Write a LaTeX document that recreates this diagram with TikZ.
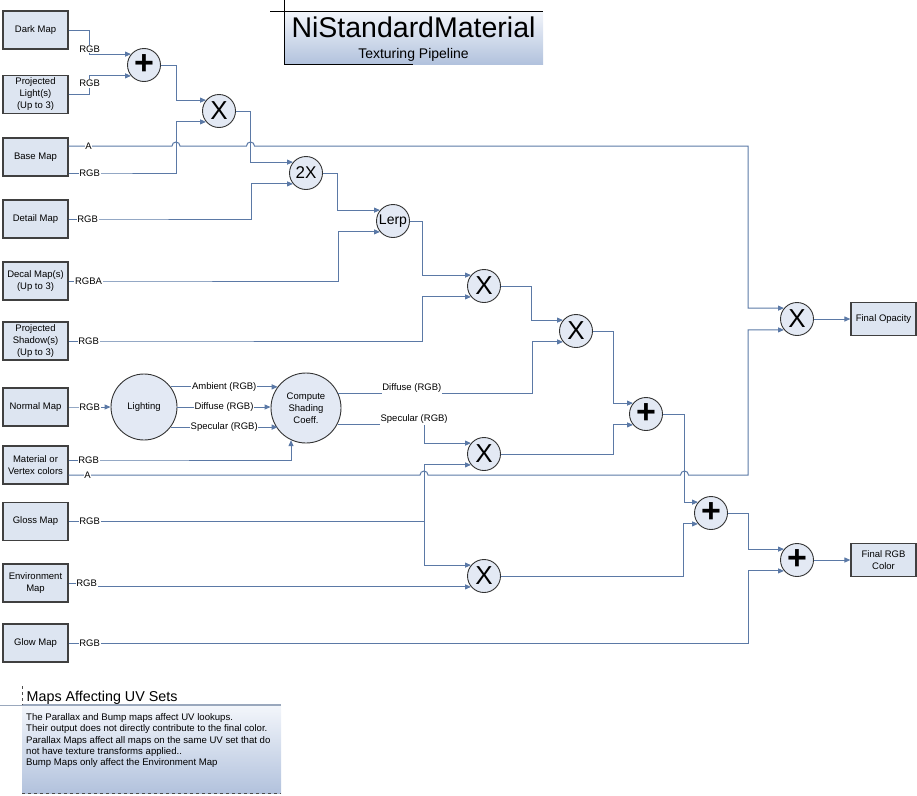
\documentclass[tikz,border=0pt]{standalone}
\usepackage{fontspec}
\setmainfont{Liberation Sans}
\usetikzlibrary{arrows.meta, positioning}

\definecolor{bleufil}{HTML}{5B79A6}
\definecolor{fondcarte}{HTML}{DDE5F1}
\definecolor{fondop}{HTML}{E3E9F4}
\definecolor{degradhaut}{HTML}{F3F6FB}
\definecolor{degradbas}{HTML}{B2C2DD}
\definecolor{bordnote}{HTML}{9AA8BD}

\newcommand{\sumsign}{\fontsize{34}{34}\selectfont\bfseries +}
\newcommand{\prodsign}{\fontsize{26}{26}\selectfont X}

\begin{document}
\begin{tikzpicture}[x=1pt, y=-1pt,
        carte/.style={draw=black!75, line width=1.2pt, fill=fondcarte, minimum width=65pt,
            minimum height=38pt, inner sep=1pt, align=center, font=\fontsize{9.5}{12}\selectfont},
        op/.style={circle, draw=black!80, line width=0.9pt, fill=fondop, minimum size=33pt, inner sep=0pt},
        bloc/.style={op, align=center, font=\fontsize{9.5}{12}\selectfont},
        fil/.style={draw=bleufil, line width=1pt},
        entree/.style={fil, -{Triangle[length=6pt, width=5pt]}},
        etiq/.style={fill=white, inner sep=0.7pt, font=\fontsize{9.5}{11}\selectfont}]

    \useasboundingbox (0,0) rectangle (917,795);

    % Titre
    \node[minimum width=259pt, minimum height=53pt, top color=degradhaut, bottom color=degradbas, inner sep=0pt] (cadre) at (413.5,37.5) {};
    \node[font=\fontsize{28.5}{30}\selectfont, inner sep=0pt] (titre) at (413.5,27) {NiStandardMaterial};
    \node[font=\fontsize{14}{16}\selectfont, inner sep=0pt] (soustitre) at (413.5,55) {Texturing Pipeline};
    \draw[line width=1pt] (270,11) -- (543,11);
    \draw[line width=1pt] (284,0) -- (284,64) -- (413,64);

    % Cartes d'entrée
    \node[carte] (dark) at (35.5,30) {Dark Map};
    \node[carte] (plight) at (35.5,94.5) {Projected\\Light(s)\\(Up to 3)};
    \node[carte] (base) at (35.5,157) {Base Map};
    \node[carte] (detail) at (35.5,219) {Detail Map};
    \node[carte] (decal) at (35.5,281) {Decal Map(s)\\(Up to 3)};
    \node[carte] (pshadow) at (35.5,341) {Projected\\Shadow(s)\\(Up to 3)};
    \node[carte] (normal) at (35.5,407) {Normal Map};
    \node[carte] (matcol) at (35.5,465) {Material or\\Vertex colors};
    \node[carte] (gloss) at (35.5,521.5) {Gloss Map};
    \node[carte] (env) at (35.5,583) {Environment\\Map};
    \node[carte] (glow) at (35.5,643) {Glow Map};

    % Sorties
    \node[carte, minimum width=65pt, minimum height=33pt] (fopac) at (883.5,319) {Final Opacity};
    \node[carte, minimum width=65pt, minimum height=33pt] (frgb) at (883.5,560) {Final RGB\\Color};

    % Opérateurs
    \node[op] (p1) at (144,65) {\sumsign};
    \node[op] (x1) at (219,111) {\prodsign};
    \node[op, font=\fontsize{17}{17}\selectfont] (dbl) at (306,173) {2X};
    \node[op, font=\fontsize{14}{14}\selectfont] (lerp) at (393,221) {Lerp};
    \node[op] (x2) at (484,286) {\prodsign};
    \node[op] (x3) at (576,331) {\prodsign};
    \node[op] (p2) at (646,414) {\sumsign};
    \node[op] (x4) at (484,454) {\prodsign};
    \node[op] (x6) at (484,576) {\prodsign};
    \node[op] (p3) at (711,513) {\sumsign};
    \node[op] (x5) at (797,319) {\prodsign};
    \node[op] (p4) at (797,560) {\sumsign};
    \node[bloc, minimum size=66pt] (light) at (144,407) {Lighting};
    \node[bloc, minimum size=70pt] (shade) at (306,408) {Compute\\Shading\\Coeff.};

    % Connexions
    \draw[entree] (dark.east) -- ++(21,0) -- ++(0,19) node[etiq]{RGB} |- (p1.140);
    \draw[entree] (plight.east) -- ++(21,0) -- ++(0,-11) node[etiq]{RGB} |- (p1.220);
    \draw[entree] (p1.east) -- ++(16,0) |- (x1.140);
    \draw[entree] ([yshift=-16pt]base.east) -- ++(21,0) node[etiq]{RGB} -- ++(87,0) |- (x1.220);
    \draw[entree] ([yshift=11pt]base.east) -- ++(20,0) node[etiq]{A} -- (172,146)
        arc[start angle=180, end angle=0, radius=4pt] -- (246.5,146)
        arc[start angle=180, end angle=0, radius=4pt] -- (748,146) |- (x5.140);
    \draw[entree] (x1.east) -- ++(15,0) |- (dbl.140);
    \draw[entree] (detail.east) -- ++(19,0) node[etiq]{RGB} -- ++(164,0) |- (dbl.220);
    \draw[entree] (dbl.east) -- ++(15,0) |- (lerp.140);
    \draw[entree] (decal.east) -- ++(20,0) node[etiq]{RGBA} -- ++(250,0) |- (lerp.220);
    \draw[entree] (lerp.east) -- ++(13,0) |- (x2.140);
    \draw[entree] (pshadow.east) -- ++(20,0) node[etiq]{RGB} -- ++(334,0) |- (x2.220);
    \draw[entree] (x2.east) -- ++(31,0) |- (x3.140);

    \draw[entree] (normal.east) -- ++(21,0) node[etiq]{RGB} -- (light.west |- normal.east);
    \draw[entree] (light.37) -- (shade.143 |- light.37) node[etiq, midway]{Ambient (RGB)};
    \draw[entree] (light.east) -- (shade.west |- light.east) node[etiq, midway]{Diffuse (RGB)};
    \draw[entree] (light.-37) -- (shade.-143 |- light.-37) node[etiq, midway]{Specular (RGB)};
    \draw[entree] ([yshift=5pt]matcol.east) -- ++(20,0) node[etiq]{RGB} -| (shade.245);
    \draw[entree] (shade.25) -- ++(194,0) node[etiq, pos=0.38, above=-1pt]{Diffuse (RGB)} |- (x3.220);
    \draw[entree] (shade.-27) -- ++(87,0) node[etiq, pos=0.88, above=-1pt]{Specular (RGB)} |- (x4.140);

    \draw[entree] ([yshift=-10pt]matcol.east) -- ++(19,0) node[etiq]{A} -- (420,475)
        arc[start angle=180, end angle=0, radius=4pt] -- (680.5,475)
        arc[start angle=180, end angle=0, radius=4pt] -- (748,475) |- (x5.220);
    \draw[fil] (gloss.east) -- ++(21,0) node[etiq]{RGB} -- ++(335,0) coordinate (gsplit);
    \draw[entree] (gsplit) |- (x4.220);
    \draw[entree] (gsplit) |- (x6.140);
    \draw[entree] (env.east) -- ++(18,0) node[etiq]{RGB} |- (x6.220);

    \draw[entree] (x3.east) -- ++(21,0) |- (p2.140);
    \draw[entree] (x4.east) -- ++(113,0) |- (p2.220);
    \draw[entree] (p2.east) -- ++(22,0) |- (p3.140);
    \draw[entree] (x6.east) -- ++(183,0) |- (p3.220);
    \draw[entree] (p3.east) -- ++(21,0) |- (p4.140);
    \draw[entree] (glow.east) -- ++(21,0) node[etiq]{RGB} -- ++(659,0) |- (p4.220);
    \draw[entree] (x5.east) -- (fopac.west);
    \draw[entree] (p4.east) -- (frgb.west);

    % Note sur les UV
    \draw[bordnote, line width=0.8pt] (0,705) -- (22,705);
    \node[anchor=north west, minimum width=259pt, minimum height=88pt, top color=degradhaut, bottom color=degradbas, inner sep=0pt] (uvcadre) at (22,705) {};
    \draw[bordnote, line width=2pt] (22,705) -- (281,705);
    \draw[dashed, black!70] (22,686) -- (22,705);
    \draw[dashed, black!70] (22,793) -- (281,793);
    \node[anchor=base west, font=\fontsize{14.3}{16}\selectfont, inner sep=0pt] (uvtitre) at (26.5,701) {Maps Affecting UV Sets};
    \node[anchor=north west, align=left, font=\fontsize{9.6}{11.3}\selectfont, inner sep=0pt] (uvtexte) at (26,713.5)
        {The Parallax and Bump maps affect UV lookups.\\
         Their output does not directly contribute to the final color.\\
         Parallax Maps affect all maps on the same UV set that do\\
         not have texture transforms applied..\\
         Bump Maps only affect the Environment Map};

\end{tikzpicture}
\end{document}
